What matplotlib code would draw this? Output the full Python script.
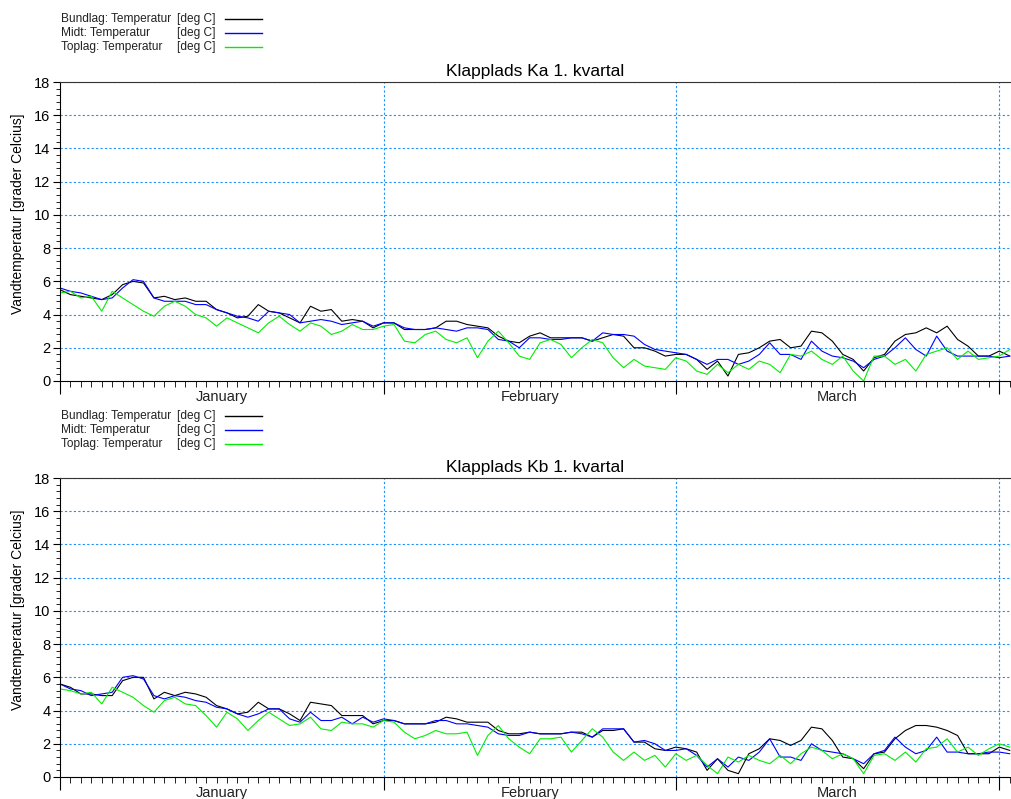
import matplotlib.pyplot as plt
from matplotlib.lines import Line2D
from matplotlib.ticker import MultipleLocator, FixedLocator
import numpy as np

plt.rcParams['font.family'] = ['Liberation Sans', 'DejaVu Sans']

# daily readings, 1 Jan .. 1 Apr (+ a bit), degrees C
ka_bund = [5.5, 5.2, 5.1, 5.0, 4.9, 5.2, 5.8, 6.0, 5.9, 5.0, 5.1, 4.9, 5.0, 4.8, 4.8, 4.3, 4.1, 3.8, 3.9, 4.6, 4.2, 4.1, 3.8, 3.5, 4.5, 4.2, 4.3, 3.6, 3.7, 3.6, 3.2,
           3.5, 3.5, 3.1, 3.1, 3.1, 3.2, 3.6, 3.6, 3.4, 3.3, 3.2, 2.7, 2.4, 2.3, 2.7, 2.9, 2.6, 2.6, 2.6, 2.6, 2.4, 2.6, 2.8, 2.7, 2.0, 2.0, 1.8, 1.5,
           1.6, 1.6, 1.3, 0.7, 1.2, 0.3, 1.6, 1.7, 2.0, 2.4, 2.5, 2.0, 2.1, 3.0, 2.9, 2.4, 1.6, 1.3, 0.6, 1.4, 1.6, 2.4, 2.8, 2.9, 3.2, 2.9, 3.3, 2.5, 2.1, 1.5, 1.5,
           1.8, 1.5]
ka_midt = [5.6, 5.4, 5.3, 5.1, 4.9, 5.0, 5.6, 6.1, 6.0, 5.0, 4.8, 4.8, 4.8, 4.6, 4.6, 4.3, 4.1, 3.9, 3.8, 3.6, 4.2, 4.1, 4.0, 3.5, 3.6, 3.7, 3.6, 3.4, 3.5, 3.6, 3.3,
           3.5, 3.5, 3.2, 3.1, 3.1, 3.2, 3.1, 3.0, 3.2, 3.2, 3.1, 2.5, 2.4, 2.0, 2.6, 2.6, 2.5, 2.5, 2.6, 2.6, 2.4, 2.9, 2.8, 2.8, 2.7, 2.2, 1.9, 1.8,
           1.7, 1.6, 1.3, 1.0, 1.3, 1.3, 1.0, 1.2, 1.6, 2.3, 1.6, 1.6, 1.3, 2.4, 1.8, 1.5, 1.4, 1.2, 0.8, 1.3, 1.5, 2.0, 2.6, 1.9, 1.5, 2.7, 1.8, 1.5, 1.5, 1.5, 1.5,
           1.4, 1.5]
ka_top = [5.3, 5.4, 5.0, 5.1, 4.2, 5.4, 5.0, 4.6, 4.2, 3.9, 4.5, 4.8, 4.5, 4.0, 3.8, 3.3, 3.8, 3.5, 3.2, 2.9, 3.5, 3.9, 3.4, 3.0, 3.5, 3.3, 2.8, 3.0, 3.4, 3.1, 3.1,
          3.3, 3.4, 2.4, 2.3, 2.8, 3.0, 2.5, 2.3, 2.6, 1.4, 2.4, 3.0, 2.3, 1.5, 1.3, 2.3, 2.5, 2.2, 1.4, 2.0, 2.5, 2.3, 1.4, 0.8, 1.3, 0.9, 0.8, 0.7,
          1.4, 1.2, 0.6, 0.4, 1.0, 0.5, 1.0, 0.7, 1.2, 1.0, 0.5, 1.6, 1.5, 1.8, 1.3, 1.0, 1.5, 0.6, 0.0, 1.5, 1.5, 1.0, 1.3, 0.6, 1.6, 1.8, 2.0, 1.3, 1.8, 1.3, 1.4,
          1.5, 1.9]

kb_bund = [5.6, 5.4, 5.0, 5.0, 4.9, 4.9, 5.8, 6.0, 6.0, 4.7, 5.1, 4.9, 5.1, 5.0, 4.8, 4.3, 4.1, 3.8, 3.9, 4.5, 4.1, 4.1, 3.8, 3.4, 4.5, 4.4, 4.3, 3.7, 3.7, 3.7, 3.2,
           3.4, 3.4, 3.2, 3.2, 3.2, 3.3, 3.6, 3.5, 3.3, 3.3, 3.3, 2.8, 2.6, 2.6, 2.7, 2.6, 2.6, 2.6, 2.7, 2.7, 2.4, 2.8, 2.8, 2.9, 2.1, 2.1, 1.7, 1.6,
           1.8, 1.7, 1.5, 0.4, 1.1, 0.4, 0.2, 1.4, 1.7, 2.3, 2.2, 1.9, 2.2, 3.0, 2.9, 2.2, 1.2, 1.1, 0.5, 1.4, 1.5, 2.3, 2.8, 3.1, 3.1, 3.0, 2.8, 2.5, 1.4, 1.4, 1.4,
           1.8, 1.6]
kb_midt = [5.6, 5.3, 5.2, 4.9, 5.0, 5.1, 6.0, 6.1, 5.9, 4.9, 4.7, 4.9, 4.8, 4.6, 4.5, 4.2, 4.1, 3.8, 3.6, 3.8, 4.1, 4.1, 3.5, 3.3, 3.9, 3.4, 3.4, 3.6, 3.2, 3.6, 3.3,
           3.5, 3.4, 3.2, 3.2, 3.2, 3.4, 3.4, 3.2, 3.2, 3.1, 3.0, 2.6, 2.5, 2.5, 2.7, 2.6, 2.6, 2.6, 2.7, 2.6, 2.4, 2.9, 2.9, 2.9, 2.1, 2.2, 2.0, 1.6,
           1.6, 1.7, 1.3, 0.6, 1.1, 0.6, 1.2, 1.0, 1.5, 2.3, 1.2, 1.2, 1.0, 2.0, 1.6, 1.5, 1.4, 1.1, 0.8, 1.4, 1.6, 2.4, 1.8, 1.4, 1.6, 2.4, 1.5, 1.5, 1.4, 1.4, 1.5,
           1.5, 1.4]
kb_top = [5.3, 5.2, 5.0, 5.1, 4.4, 5.4, 5.1, 4.8, 4.3, 3.9, 4.6, 4.8, 4.4, 4.3, 3.7, 3.0, 3.9, 3.5, 2.8, 3.4, 3.9, 3.5, 3.1, 3.2, 3.6, 2.9, 2.8, 3.3, 3.2, 3.2, 3.0,
          3.4, 3.3, 2.7, 2.3, 2.5, 2.8, 2.6, 2.6, 2.7, 1.3, 2.5, 3.1, 2.3, 1.8, 1.4, 2.3, 2.3, 2.4, 1.5, 2.2, 2.9, 2.4, 1.5, 1.0, 1.5, 1.0, 1.3, 0.6,
          1.4, 1.0, 1.3, 0.7, 0.2, 1.2, 0.9, 1.3, 1.0, 0.8, 1.3, 0.8, 1.4, 1.8, 1.6, 1.1, 1.4, 1.1, 0.2, 1.3, 1.4, 1.0, 1.5, 0.9, 1.7, 1.8, 2.3, 1.5, 1.8, 1.3, 1.7,
          2.0, 1.8]

month_starts = [0, 31, 59, 90]
month_names = ['January', 'February', 'March']
series_names = ['Bundlag: Temperatur', 'Midt: Temperatur', 'Toplag: Temperatur']
colors = ['black', '#0000ff', '#00ee00']
grid_col = '#1e90ff'

fig = plt.figure(figsize=(10.11, 7.99), dpi=100)
W, H = 1011, 799


def panel(top_px, title, data, legend_top):
    ax = fig.add_axes([60 / W, (H - top_px - 299) / H, 951 / W, 299 / H])
    lines = []
    for vals, c in zip(data, colors):
        x = np.arange(len(vals))
        ln, = ax.plot(x, vals, color=c, lw=0.8)
        lines.append(ln)
    ax.set_xlim(0, 91.12)
    ax.set_ylim(0, 18)
    ax.yaxis.set_major_locator(MultipleLocator(2))
    ax.yaxis.set_minor_locator(MultipleLocator(0.4))
    ax.xaxis.set_major_locator(FixedLocator(month_starts))
    ax.xaxis.set_minor_locator(MultipleLocator(1))
    ax.set_xticklabels([])
    ax.tick_params(axis='y', which='major', direction='out', length=5, labelsize=10.5, pad=2)
    ax.tick_params(axis='y', which='minor', direction='out', length=3)
    ax.tick_params(axis='x', which='major', direction='out', length=9)
    ax.tick_params(axis='x', which='minor', direction='out', length=4)
    for v in range(2, 19, 2):
        ax.axhline(v, color=grid_col, lw=0.8, ls=(0, (2, 2)), zorder=0)
    for m in month_starts[1:]:
        ax.axvline(m, color=grid_col, lw=0.8, ls=(0, (2, 2)), zorder=0)
    ax.spines['right'].set_visible(False)
    ax.spines['top'].set_color('#333333')
    for i, name in enumerate(month_names):
        mid = (month_starts[i] + month_starts[i + 1]) / 2
        ax.text(mid, -0.055, name, transform=ax.get_xaxis_transform(),
                ha='center', va='center', fontsize=10.5, color='#222222')
    ax.set_title(title, fontsize=12.5, pad=4)
    ax.set_ylabel('Vandtemperatur [grader Celcius]', fontsize=10)
    ax.yaxis.set_label_coords(-0.037, 0.56)

    # legend block above the axes
    for i, (name, ln) in enumerate(zip(series_names, lines)):
        yy = 1 - (legend_top + 14 * i) / H
        fig.text(61 / W, yy, name, fontsize=8.6, va='center', ha='left', color='#222222')
        fig.text(177 / W, yy, '[deg C]', fontsize=8.6, va='center', ha='left', color='#222222')
        fig.add_artist(Line2D([225 / W, 262 / W], [yy, yy], color=ln.get_color(), lw=1))
    return ax


panel(82, 'Klapplads Ka 1. kvartal', [ka_bund, ka_midt, ka_top], 19)
panel(478, 'Klapplads Kb 1. kvartal', [kb_bund, kb_midt, kb_top], 416)

fig.savefig('out.png', dpi=100)
